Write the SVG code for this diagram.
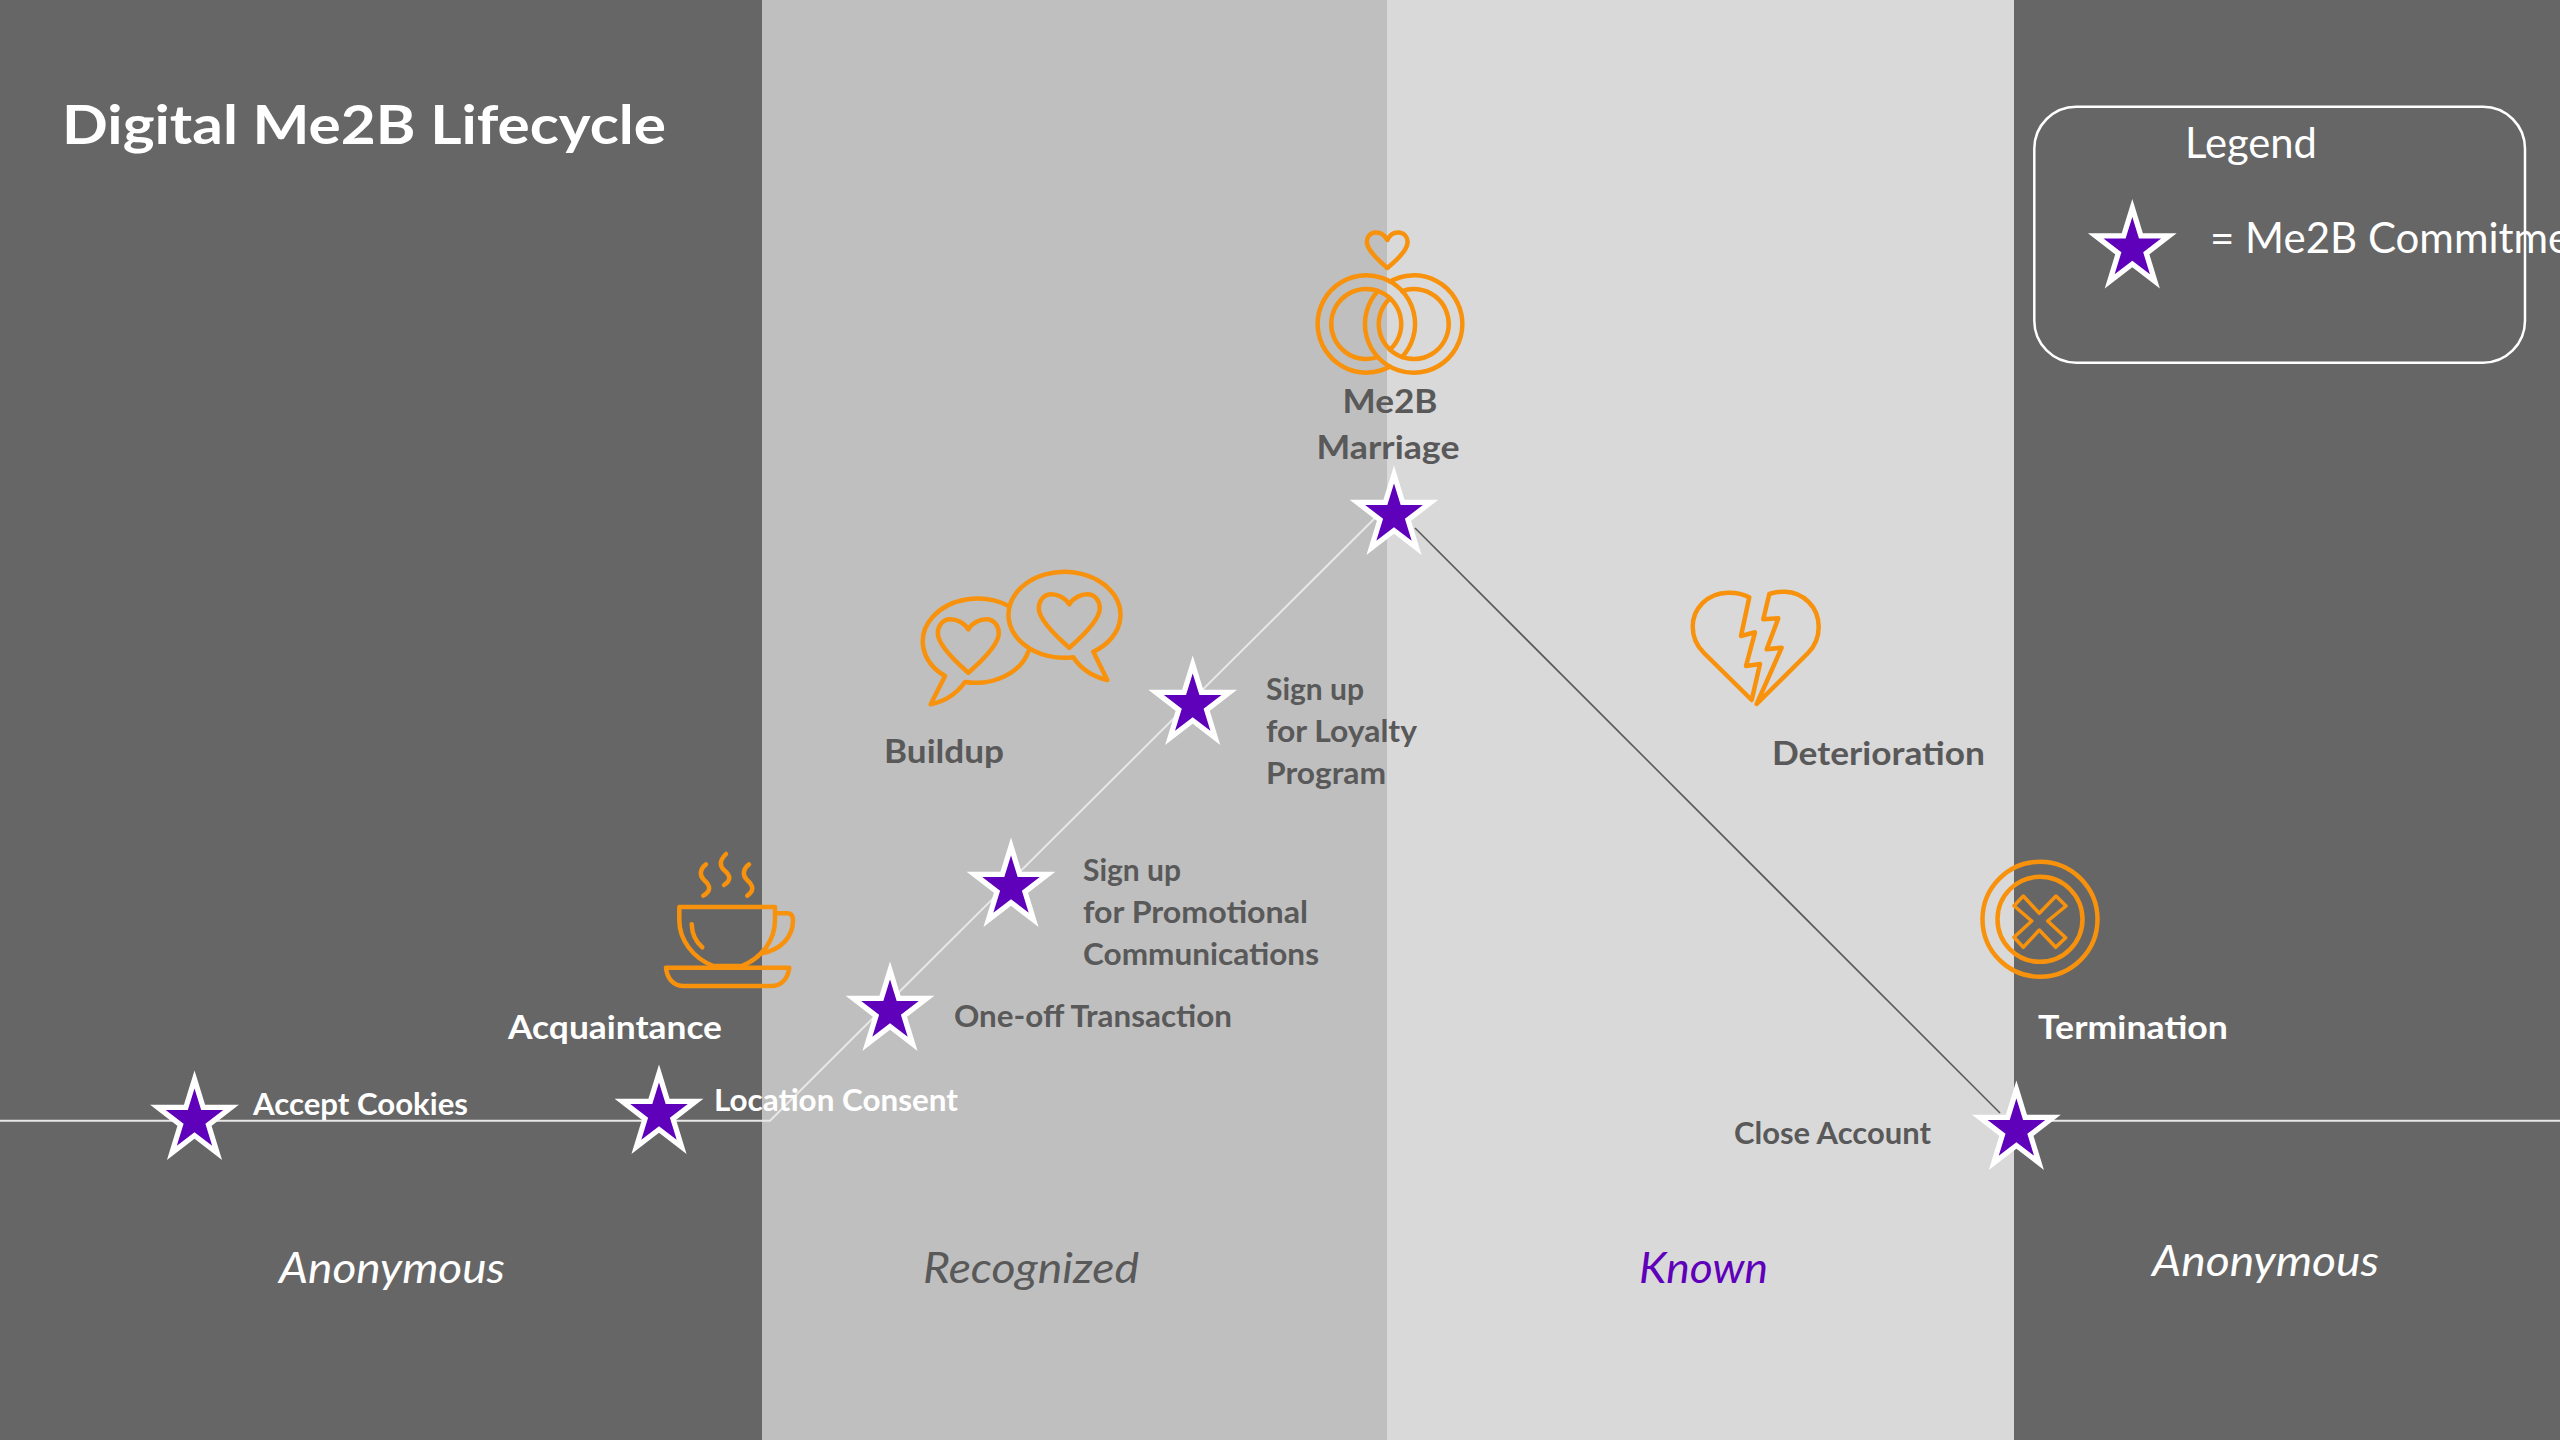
<svg xmlns="http://www.w3.org/2000/svg" xmlns:xlink="http://www.w3.org/1999/xlink" width="2560" height="1440" viewBox="0 0 2560 1440">
<style>
text{font-family:"Lato","Open Sans","Liberation Sans",sans-serif}
.b{font-weight:700}
.w{fill:#fff}
.g{fill:#595959}
.t{font-size:30px}
.m{font-size:33px}
.i{font-size:42px;font-style:italic}
.o{fill:none;stroke:#f8920c;stroke-width:4.5;stroke-linejoin:round;stroke-linecap:round}
.star{fill:#5f00ba;stroke:#fff;stroke-width:5.3;stroke-miterlimit:10}
</style>
<defs>
<polygon id="star" class="star" points="0,-40.6 8.64,-12.55 36.6,-12.55 13.98,4.8 22.6,32.8 0,15.5 -22.6,32.8 -13.98,4.8 -36.6,-12.55 -8.64,-12.55"/>
<path id="heart" d="M0 10C-4 3-12 0-18 0C-26 0-30.5 7-30.5 14C-30.5 26-12 43 0 53.5C12 43 30.5 26 30.5 14C30.5 7 26 0 18 0C12 0 4 3 0 10Z"/>
</defs>
<g id="bands">
<rect x="0" y="0" width="762" height="1440" fill="#666"/>
<rect x="762" y="0" width="625" height="1440" fill="#bfbfbf"/>
<rect x="1387" y="0" width="627" height="1440" fill="#d9d9d9"/>
<rect x="2014" y="0" width="546" height="1440" fill="#666"/>
</g>
<g id="connectors" fill="none">
<polyline points="0,1120.7 770,1120.7 1375,518" stroke="#e8e8e8" stroke-width="2"/>
<line x1="1415" y1="528" x2="2000" y2="1113" stroke="#595959" stroke-width="1.6"/>
<line x1="2016" y1="1120.7" x2="2560" y2="1120.7" stroke="#e8e8e8" stroke-width="2"/>
</g>
<g id="title"><text class="b w" x="62" y="144" font-size="54" textLength="604" lengthAdjust="spacingAndGlyphs">Digital Me2B Lifecycle</text></g>
<g id="legend">
<rect x="2034.3" y="106.7" width="490.7" height="256" rx="42" fill="none" stroke="#fff" stroke-width="2.5"/>
<text class="w" x="2185" y="158" font-size="42" textLength="132" lengthAdjust="spacingAndGlyphs">Legend</text>
<use xlink:href="#star" href="#star" x="2132.3" y="248.5"/>
<text class="w" x="2210" y="253" font-size="42">= Me2B Commitment</text>
</g>
<g id="node-accept-cookies">
<use xlink:href="#star" href="#star" x="194.5" y="1120"/>
<text class="b w t" x="253" y="1115" textLength="215" lengthAdjust="spacingAndGlyphs">Accept Cookies</text>
</g>
<g id="node-location-consent">
<use xlink:href="#star" href="#star" x="659" y="1114"/>
<text class="b w t" x="714" y="1111" textLength="244" lengthAdjust="spacingAndGlyphs">Location Consent</text>
</g>
<g id="node-one-off">
<use xlink:href="#star" href="#star" x="890" y="1011"/>
<text class="b g t" x="954" y="1027" textLength="278" lengthAdjust="spacingAndGlyphs">One-off Transaction</text>
</g>
<g id="node-promotional">
<use xlink:href="#star" href="#star" x="1011" y="887"/>
<text class="b g t" x="1083" y="881">Sign up</text>
<text class="b g t" x="1083" y="923" textLength="225" lengthAdjust="spacingAndGlyphs">for Promotional</text>
<text class="b g t" x="1083" y="965" textLength="236" lengthAdjust="spacingAndGlyphs">Communications</text>
</g>
<g id="node-loyalty">
<use xlink:href="#star" href="#star" x="1192.7" y="705"/>
<text class="b g t" x="1266" y="700">Sign up</text>
<text class="b g t" x="1266" y="742" textLength="151" lengthAdjust="spacingAndGlyphs">for Loyalty</text>
<text class="b g t" x="1266" y="784" textLength="120" lengthAdjust="spacingAndGlyphs">Program</text>
</g>
<g id="node-marriage">
<g class="o">
<path d="M1387.3 240C1384 234 1379 232 1375 232.5C1369 233.5 1366.5 238 1367 243C1367.5 250 1378 260 1387.3 268C1397 260 1407 250 1407.5 243C1408 238 1405 233.5 1399.5 232.5C1395 232 1390 234 1387.3 240Z"/>
<path d="M1390 366.5A48.7 48.7 0 1 1 1402.1 357"/>
<path d="M1377.9 357A35 35 0 1 1 1390 349.7"/>
<path d="M1390 281.5A48.7 48.7 0 1 1 1377.9 291"/>
<path d="M1402.1 291A35 35 0 1 1 1390 298.3"/>
</g>
<text class="b g m" x="1390" y="413" text-anchor="middle" textLength="95" lengthAdjust="spacingAndGlyphs">Me2B</text>
<text class="b g m" x="1388" y="459" text-anchor="middle" textLength="143" lengthAdjust="spacingAndGlyphs">Marriage</text>
<use xlink:href="#star" href="#star" x="1394" y="515"/>
</g>
<g id="node-acquaintance">
<g class="o">
<path d="M706 864.3C700 869 699 875 704 880C711 886 711 891 703.3 895.7"/>
<path d="M726 854C720 860 719 865 724 870C731 876 731 880 724 885"/>
<path d="M749 864.3C743 869 742 875 747 880C754 886 754 891 747.3 895.7"/>
<path d="M679.3 907H775V920C775 940 762 958 741.7 966H713.3C693 958 679.3 940 679.3 920Z"/>
<path d="M775 913.3H787Q793 913.3 793 920C793 938 780 950 761.7 953.3"/>
<path d="M691.7 924.3C692 934 696 942 702.3 947.3"/>
<path d="M666 967.7H789.3C788 978 782 986 771 986H684C673 986 667 978 666 967.7Z"/>
</g>
<text class="b w m" x="508" y="1039" textLength="214" lengthAdjust="spacingAndGlyphs">Acquaintance</text>
</g>
<g id="node-buildup">
<g class="o">
<path d="M1073.3 657.3A56 43 0 1 1 1093.3 651.7L1107.3 680Q1085 675 1073.3 657.3Z"/>
<path d="M1008.3 605.7A55 43 0 0 0 945 676L930.7 704.3Q952 700 965 682A55 43 0 0 0 1028.3 651.7"/>
<use xlink:href="#heart" href="#heart" x="968.3" y="619.3"/>
<use xlink:href="#heart" href="#heart" x="1069.3" y="594.3"/>
</g>
<text class="b g m" x="884" y="763" textLength="120" lengthAdjust="spacingAndGlyphs">Buildup</text>
</g>
<g id="node-deterioration">
<g class="o">
<path d="M1749.3 597.3C1743 594 1735 592.5 1728 592.7C1707 593 1692.7 609 1692.7 626.7C1692.7 637 1697 646 1704 653L1751.7 700L1760 664L1746 666L1755 632.3L1741 636Z"/>
<path d="M1769.3 594L1763.3 619.3L1778.3 618.3L1766.7 649.3L1781.7 647.7L1756.7 704L1808 653C1815 646 1818.7 637 1818.7 626.7C1818.7 607 1803 592 1785 591.7C1779 591.5 1774 592.5 1769.3 594Z"/>
</g>
<text class="b g m" x="1772" y="765" textLength="213" lengthAdjust="spacingAndGlyphs">Deterioration</text>
</g>
<g id="node-termination">
<g class="o">
<circle cx="2040" cy="919.3" r="57.5"/>
<circle cx="2040" cy="919.3" r="42.5"/>
<path d="M2039.3 913.3L2056 896L2066 906L2047.7 921L2065.7 937.7L2055.7 947.3L2039.3 930L2023.3 947.3L2014 937.3L2031.7 921L2014 905.7L2023.3 896Z" stroke-width="3.5"/>
</g>
<text class="b w m" x="2038" y="1039" textLength="190" lengthAdjust="spacingAndGlyphs">Termination</text>
</g>
<g id="node-close-account">
<text class="b g t" x="1734" y="1144" textLength="197" lengthAdjust="spacingAndGlyphs">Close Account</text>
<use xlink:href="#star" href="#star" x="2016.4" y="1130"/>
</g>
<g id="phases">
<text class="i w" x="279" y="1283" textLength="226" lengthAdjust="spacingAndGlyphs">Anonymous</text>
<text class="i g" x="923" y="1283" textLength="216" lengthAdjust="spacingAndGlyphs">Recognized</text>
<text class="i" fill="#5f00ba" x="1639" y="1283" textLength="129" lengthAdjust="spacingAndGlyphs">Known</text>
<text class="i w" x="2152" y="1276" textLength="227" lengthAdjust="spacingAndGlyphs">Anonymous</text>
</g>
</svg>
